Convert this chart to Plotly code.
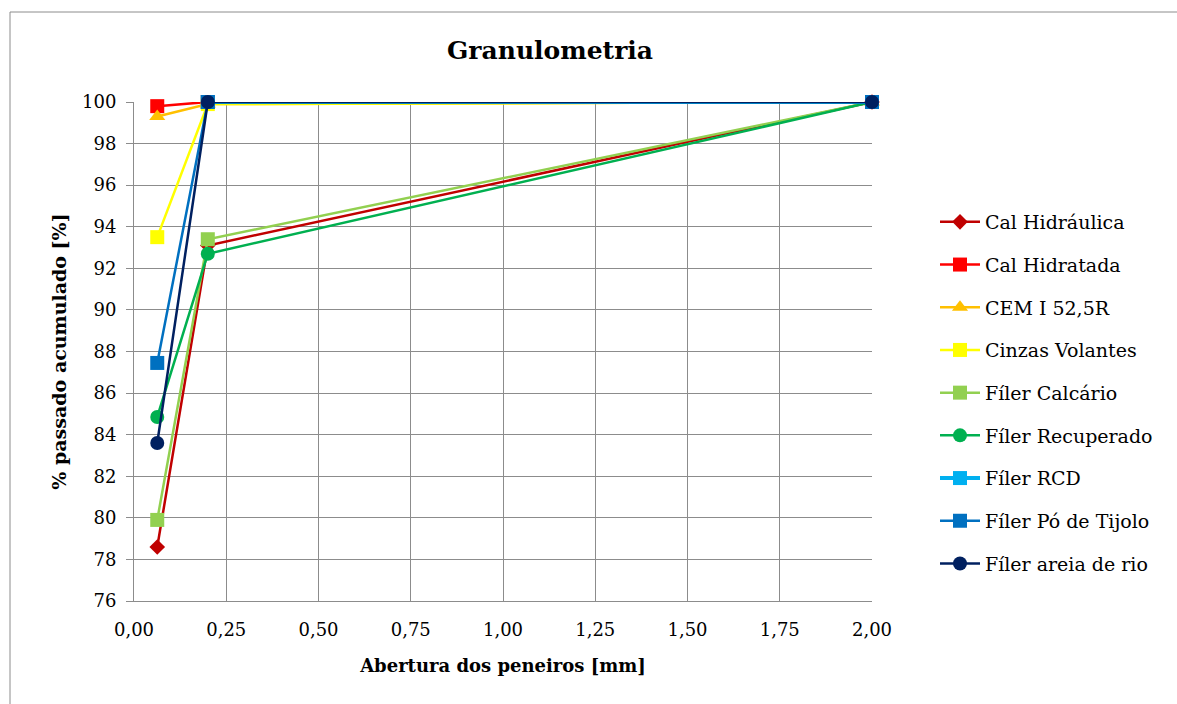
import plotly.graph_objects as go

sieves = [0.063, 0.2, 2.0]
series_names = ["Cal Hidráulica", "Cal Hidratada", "CEM I 52,5R", "Cinzas Volantes",
                "Fíler Calcário", "Fíler Recuperado", "Fíler RCD", "Fíler Pó de Tijolo",
                "Fíler areia de rio"]
cal_hidraulica = [78.6, 93.1, 100.0]
cal_hidratada = [99.8, 100.0, 100.0]
cem = [99.3, 99.9, 100.0]
cinzas = [93.5, 99.9, 100.0]
filer_calcario = [79.9, 93.4, 100.0]
filer_recuperado = [84.85, 92.7, 100.0]
filer_rcd = [None, 100.0, 100.0]
filer_tijolo = [87.45, 100.0, 100.0]
filer_areia = [83.6, 100.0, 100.0]
y_ticks = list(range(76, 101, 2))

values = [cal_hidraulica, cal_hidratada, cem, cinzas, filer_calcario,
          filer_recuperado, filer_rcd, filer_tijolo, filer_areia]
colors = ["#C00000", "#FF0000", "#FFC000", "#FFFF00", "#92D050",
          "#00B050", "#00B0F0", "#0070C0", "#002060"]
symbols = ["diamond", "square", "triangle-up", "square", "square",
           "circle", "square", "square", "circle"]
sizes = [12, 14, 14, 14, 14, 14, 14, 14, 14]
widths = [2.5, 2.5, 2.5, 2.5, 2.5, 2.5, 4, 2.5, 2.5]

fig = go.Figure()
for name, vals, c, s, sz, w in zip(series_names, values, colors, symbols, sizes, widths):
    fig.add_trace(go.Scatter(
        x=sieves, y=vals, name=name, mode="lines+markers",
        line=dict(color=c, width=w),
        marker=dict(symbol=s, size=sz, color=c),
        legendgroup=name, cliponaxis=False,
    ))

font_family = "DejaVu Serif"
fig.update_layout(
    width=1177, height=704,
    margin=dict(l=134, r=305, t=102, b=103),
    paper_bgcolor="white", plot_bgcolor="white",
    separators=",.",
    font=dict(family=font_family, size=18, color="black"),
    title=dict(text="<b>Granulometria</b>", x=550 / 1177, xanchor="center",
               y=1 - 50 / 704, yanchor="middle", font=dict(size=25, family=font_family)),
    xaxis=dict(range=[0, 2.0], dtick=0.25, tick0=0, tickformat=".2f",
               showgrid=True, gridcolor="#8C8C8C", gridwidth=1,
               showline=True, linecolor="#8C8C8C", linewidth=1,
               ticks="", ticklabelstandoff=12,
               zeroline=False, tickfont=dict(size=18, family=font_family),
               title=dict(text="<b>Abertura dos peneiros [mm]</b>",
                          font=dict(size=18, family=font_family), standoff=20)),
    yaxis=dict(range=[76, 100], tickvals=y_ticks,
               showgrid=True, gridcolor="#8C8C8C", gridwidth=1,
               showline=True, linecolor="#8C8C8C", linewidth=1,
               ticks="outside", ticklen=7, tickcolor="#8C8C8C", ticklabelstandoff=6,
               zeroline=False, tickfont=dict(size=18, family=font_family),
               title=dict(text="<b>% passado acumulado [%]</b>",
                          font=dict(size=19, family=font_family), standoff=10)),
    legend=dict(x=(935 - 134) / 738, xanchor="left", y=(601 - 393) / 499, yanchor="middle",
                font=dict(size=19, family=font_family), tracegroupgap=15, itemwidth=40,
                bgcolor="rgba(0,0,0,0)"),
    showlegend=True,
)
fig.add_shape(type="rect", xref="paper", yref="paper",
              x0=(10 - 134) / 738, x1=(1185 - 134) / 738,
              y0=(601 - 715) / 499, y1=(601 - 12) / 499,
              line=dict(color="#8C8C8C", width=1), fillcolor="rgba(0,0,0,0)", layer="below")

fig.write_html("out.html")
